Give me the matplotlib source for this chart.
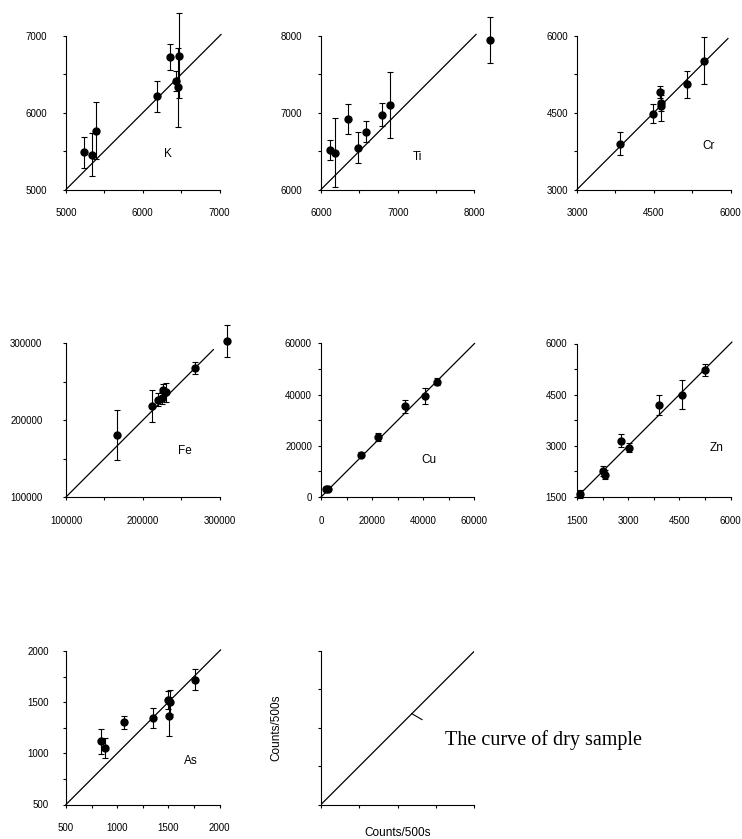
import matplotlib
matplotlib.use("Agg")
import matplotlib.pyplot as plt

plt.rcParams['font.family'] = ['Liberation Sans', 'DejaVu Sans']

# measured vs reference counts, with error bars
k_x = [5240, 5345, 5389, 6183, 6354, 6432, 6459, 6472]
k_y = [5486, 5455, 5764, 6215, 6727, 6414, 6332, 6744]
k_err = [200, 280, 370, 205, 165, 130, 515, 556]

ti_x = [6117, 6186, 6355, 6485, 6580, 6797, 6905, 8199]
ti_y = [6516, 6482, 6920, 6547, 6755, 6976, 7106, 7952]
ti_err = [135, 450, 200, 200, 140, 145, 430, 300]

cr_x = [3846, 4484, 4620, 4640, 4645, 5154, 5485]
cr_y = [3898, 4484, 4906, 4691, 4640, 5056, 5518]
cr_err = [220, 180, 125, 150, 300, 260, 460]

fe_x = [166957, 212174, 220435, 224783, 226957, 230435, 267826, 310000]
fe_y = [180777, 218359, 227000, 228726, 239525, 236500, 268466, 303024]
fe_err = [33000, 21000, 8000, 8000, 8000, 12500, 8000, 20500]

cu_x = [1944, 2851, 15680, 22288, 32915, 40690, 45355]
cu_y = [3240, 3240, 16457, 23455, 35377, 39393, 45095]
cu_err = [600, 600, 1000, 1500, 2700, 3100, 1500]

zn_x = [1588, 2252, 2320, 2779, 3014, 3902, 4576, 5250]
zn_y = [1597, 2259, 2152, 3155, 2951, 4197, 4499, 5230]
zn_err = [120, 140, 130, 190, 130, 280, 420, 170]

as_x = [842, 881, 1064, 1354, 1494, 1517, 1511, 1765]
as_y = [1117, 1052, 1302, 1344, 1523, 1500, 1360, 1721]
as_err = [120, 100, 60, 95, 90, 115, 190, 105]

# name, x, y, err, axis range, tick step, label step, 1:1 line end, name position
panels = [
    ("K", k_x, k_y, k_err, (5000, 7000), 500, 1000, 7020, (6323, 5469)),
    ("Ti", ti_x, ti_y, ti_err, (6000, 8000), 500, 1000, 8020, (7251, 6425)),
    ("Cr", cr_x, cr_y, cr_err, (3000, 6000), 750, 1500, 5950, (5570, 3852)),
    ("Fe", fe_x, fe_y, fe_err, (100000, 300000), 50000, 100000, 292000, (254783, 160475)),
    ("Cu", cu_x, cu_y, cu_err, (0, 60000), 10000, 20000, 60000, (42115, 14643)),
    ("Zn", zn_x, zn_y, zn_err, (1500, 6000), 750, 1500, 6040, (5582, 2951)),
    ("As", as_x, as_y, as_err, (500, 2000), 250, 500, 2010, (1716, 922)),
]
ypads = [11, 11, 4, 14.5, 4, 4.5, 10]

W, H = 742, 839
lefts = [66, 321, 577]
tops = [36, 343.5, 651]
size = 153.5

fig = plt.figure(figsize=(W / 100, H / 100), dpi=100)


def make_axes(i):
    r, c = divmod(i, 3)
    ax = fig.add_axes([lefts[c] / W, 1 - (tops[r] + size) / H, size / W, size / H])
    for s in ['top', 'right']:
        ax.spines[s].set_visible(False)
    for s in ['left', 'bottom']:
        ax.spines[s].set_linewidth(0.8)
    return ax


for i, (name, xs, ys, errs, (lo, hi), step, lstep, lend, (tx, ty)) in enumerate(panels):
    ax = make_axes(i)
    ax.plot([lo, lend], [lo, lend], color='black', lw=0.9, clip_on=False)
    ax.errorbar(xs, ys, yerr=errs, fmt='o', color='black', ms=5, ecolor='black',
                elinewidth=0.8, capsize=2, capthick=0.8, clip_on=False, zorder=3)
    ax.set_xlim(lo, hi)
    ax.set_ylim(lo, hi)
    ticks = list(range(lo, hi + 1, step))
    labels = [str(t) if (t - lo) % lstep == 0 else '' for t in ticks]
    ax.set_xticks(ticks)
    ax.set_xticklabels(labels)
    ax.set_yticks(ticks)
    ax.set_yticklabels(labels)
    ax.tick_params(axis='x', direction='out', length=2.5, width=0.8, labelsize=7, pad=11)
    ax.tick_params(axis='y', direction='out', length=2.5, width=0.8, labelsize=7, pad=ypads[i])
    ax.text(tx, ty, name, fontsize=8.5, ha='center', va='center')

# schematic panel
ax = make_axes(7)
ax.plot([0, 1], [0, 1], color='black', lw=0.9)
ax.plot([0.591, 0.658], [0.592, 0.553], color='black', lw=0.8, transform=ax.transAxes)
ax.set_xlim(0, 1)
ax.set_ylim(0, 1)
ax.set_xticks([0, 0.25, 0.5, 0.75, 1])
ax.set_yticks([0, 0.25, 0.5, 0.75, 1])
ax.set_xticklabels([])
ax.set_yticklabels([])
ax.tick_params(direction='out', length=2.5, width=0.8)
ax.set_xlabel('Counts/500s', fontsize=8.5, labelpad=10)
ax.set_ylabel('Counts/500s', fontsize=8.5, labelpad=22)
fig.text(445 / W, 1 - 740 / H, 'The curve of dry sample', fontsize=14.5,
         family=['Liberation Serif', 'DejaVu Serif'], ha='left', va='center')

fig.savefig('out.png', dpi=100)
